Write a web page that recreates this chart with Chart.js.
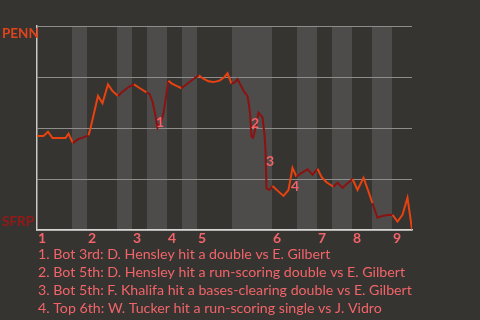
<!DOCTYPE html>
<html>
<head>
<meta charset="utf-8">
<script src="https://cdn.jsdelivr.net/npm/chart.js@4.4.1/dist/chart.umd.min.js"></script>
<style>
  html, body { margin: 0; padding: 0; background: #363430; }
  #wrap { width: 480px; height: 320px; }
</style>
</head>
<body>
<div id="wrap"><canvas id="c" width="480" height="320"></canvas></div>
<script>
// ---- data ----
const eventX = [0, 1.3, 2.2, 3.1, 5.7, 6.3, 7.2, 8.2, 9.3, 10.3, 10.7, 12.2, 13.1, 14.2, 15.1,
  16.2, 17.1, 18.4, 19.4, 20.5, 21.9, 22.5, 23.1, 23.6, 24.1, 24.8, 25.3, 26.3, 26.9, 27.9,
  28.9, 30.3, 31.3, 32.4, 33.1, 34.3, 35.3, 36.5, 37.5, 38.1, 38.9, 39.6, 40.1, 40.9, 41.4,
  42.1, 42.4, 42.6, 42.9, 43.2, 43.6, 44.3, 45.1, 45.5, 45.7, 45.9, 46.5, 47.1, 48.1, 49.3,
  50.3, 51.1, 51.9, 52.8, 54.1, 55.1, 56.1, 56.9, 57.9, 59.3, 60.1, 61.1, 62.1, 63.1, 64.1,
  65.3, 66.3, 67.1, 68.1, 69.1, 70.1, 71.1, 72.1, 73.1, 74.1, 75];
const winProb = [0.461, 0.461, 0.482, 0.451, 0.451, 0.472, 0.426, 0.445, 0.454, 0.464, 0.499, 0.657, 0.621, 0.714, 0.681,
  0.657, 0.678, 0.702, 0.714, 0.696, 0.675, 0.667, 0.629, 0.572, 0.501, 0.531, 0.572, 0.732, 0.719, 0.706,
  0.695, 0.722, 0.740, 0.758, 0.744, 0.729, 0.725, 0.732, 0.750, 0.768, 0.717, 0.725, 0.740, 0.702, 0.678,
  0.657, 0.613, 0.572, 0.457, 0.452, 0.490, 0.575, 0.552, 0.466, 0.392, 0.204, 0.196, 0.216, 0.193, 0.167,
  0.196, 0.305, 0.261, 0.278, 0.298, 0.271, 0.300, 0.260, 0.234, 0.212, 0.232, 0.207, 0.229, 0.250, 0.196,
  0.256, 0.188, 0.131, 0.060, 0.069, 0.074, 0.074, 0.041, 0.074, 0.158, 0.003];
// half-inning boundaries (in plate-appearance units)
const halfInningBounds = [0, 7, 10, 16, 19, 22, 26, 29, 32, 39, 47, 52, 56, 59, 63, 67, 71, 75];
const inningLabels = ['1', '2', '3', '4', '5', '6', '7', '8', '9'];
const teamTop = 'PENN';
const teamBottom = 'SFRP';
const markerLabels = ['1', '2', '3', '4'];
const markerX = [24.6, 43.6, 46.6, 51.6];
const markerY = [0.529, 0.520, 0.338, 0.211];
const notes = [
  '1. Bot 3rd: D. Hensley hit a double vs E. Gilbert',
  '2. Bot 5th: D. Hensley hit a run-scoring double vs E. Gilbert',
  '3. Bot 5th: F. Khalifa hit a bases-clearing double vs E. Gilbert',
  '4. Top 6th: W. Tucker hit a run-scoring single vs J. Vidro'
];

// ---- styles ----
const BG = '#363430';
const BAND = '#4d4c4a';
const TOP_COLOR = '#e8420f';
const BOT_COLOR = '#8c1212';
const PINK = '#f26469';
const FONT = 'Lato, "Open Sans", sans-serif';

function isBottomHalf(x) {
  for (let i = 1; i < halfInningBounds.length - 1; i += 2) {
    if (x >= halfInningBounds[i] && x < halfInningBounds[i + 1]) return true;
  }
  return false;
}

const points = eventX.map((x, i) => ({ x: x, y: winProb[i] }));

const decor = {
  id: 'decor',
  beforeDraw(chart) {
    const { ctx, chartArea: a, scales: { x } } = chart;
    ctx.save();
    ctx.fillStyle = BG;
    ctx.fillRect(0, 0, chart.width, chart.height);
    ctx.fillStyle = BAND;
    for (let i = 1; i < halfInningBounds.length - 1; i += 2) {
      const x0 = x.getPixelForValue(halfInningBounds[i]);
      const x1 = x.getPixelForValue(halfInningBounds[i + 1]);
      ctx.fillRect(x0, a.top, x1 - x0, a.bottom - a.top);
    }
    ctx.restore();
  },
  afterDraw(chart) {
    const { ctx, chartArea: a, scales: { x, y } } = chart;
    ctx.save();
    // team labels
    ctx.font = 'bold 13.5px ' + FONT;
    ctx.textBaseline = 'alphabetic';
    ctx.textAlign = 'left';
    ctx.fillStyle = '#e0441c';
    ctx.fillText(teamTop, 2, 38);
    ctx.fillStyle = '#961818';
    ctx.fillText(teamBottom, 2, 226);
    // inning labels
    ctx.fillStyle = PINK;
    ctx.font = 'bold 14px ' + FONT;
    for (let i = 0; i < inningLabels.length; i++) {
      const px = x.getPixelForValue(halfInningBounds[i * 2]);
      ctx.fillText(inningLabels[i], px + 1, a.bottom + 13);
    }
    // markers
    ctx.textAlign = 'center';
    ctx.textBaseline = 'middle';
    for (let i = 0; i < markerLabels.length; i++) {
      ctx.fillText(markerLabels[i], x.getPixelForValue(markerX[i]), y.getPixelForValue(markerY[i]));
    }
    // notes
    ctx.textAlign = 'left';
    ctx.textBaseline = 'alphabetic';
    ctx.font = '14.2px ' + FONT;
    for (let i = 0; i < notes.length; i++) {
      ctx.fillText(notes[i], 38, 259 + i * 18);
    }
    ctx.restore();
  }
};

new Chart(document.getElementById('c'), {
  type: 'line',
  data: {
    datasets: [{
      data: points,
      borderWidth: 2,
      pointRadius: 0,
      tension: 0,
      fill: false,
      borderColor: TOP_COLOR,
      segment: {
        borderColor: ctx => isBottomHalf((ctx.p0.parsed.x + ctx.p1.parsed.x) / 2) ? BOT_COLOR : TOP_COLOR
      }
    }]
  },
  options: {
    responsive: false,
    devicePixelRatio: 1,
    animation: false,
    layout: { padding: { left: 37, top: 26, right: 68, bottom: 90 } },
    plugins: { legend: { display: false }, tooltip: { enabled: false } },
    scales: {
      x: {
        type: 'linear', min: 0, max: 75,
        ticks: { display: false },
        grid: { display: false, drawTicks: false },
        border: { display: true, color: '#d6d6d4', width: 1.5 }
      },
      y: {
        min: 0, max: 1,
        ticks: { display: false, stepSize: 0.25 },
        grid: { color: '#8e8d8b', lineWidth: 1, drawTicks: false },
        border: { display: true, color: '#c8c8c6', width: 1.5 }
      }
    }
  },
  plugins: [decor]
});
</script>
</body>
</html>
